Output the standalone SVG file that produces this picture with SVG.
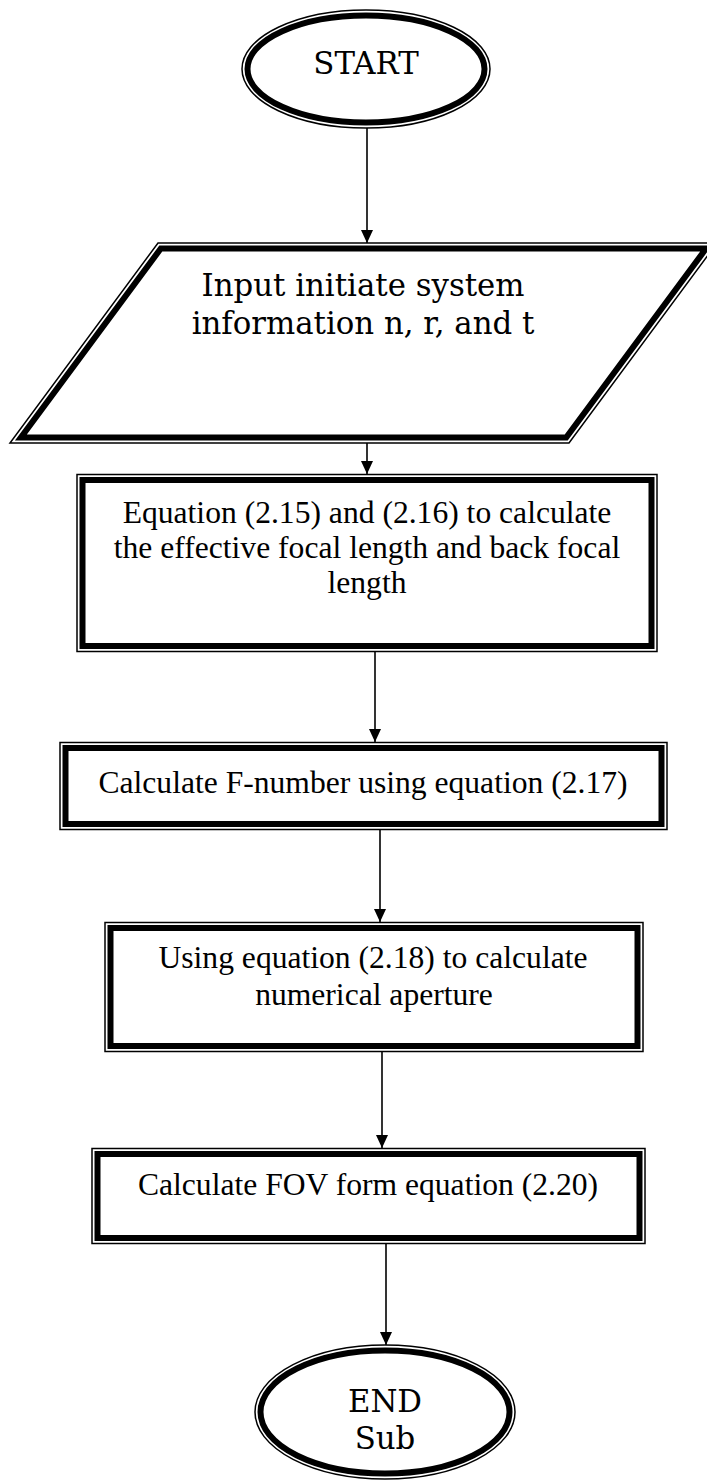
<svg xmlns="http://www.w3.org/2000/svg" width="707" height="1483" viewBox="0 0 707 1483">
<style>
.thin{fill:none;stroke:#000;stroke-width:1.5}
.thick{fill:none;stroke:#000;stroke-width:6}
.bg{fill:#fff;stroke:none}
.tnr{font-family:"Liberation Serif","Times New Roman",serif;font-size:31.6px;fill:#000;text-anchor:middle}
.bk{font-family:"DejaVu Serif",serif;font-size:30.8px;fill:#000;text-anchor:middle}
.conn{stroke:#000;stroke-width:1.6;fill:none;marker-end:url(#ah)}
</style>
<defs>
<marker id="ah" markerWidth="14" markerHeight="14" refX="13" refY="6" orient="auto" markerUnits="userSpaceOnUse">
<path d="M0,0 L13,6 L0,12 Z" fill="#000"/>
</marker>
</defs>
<rect width="707" height="1483" fill="#fff"/>
<g id="connectors">
<line class="conn" x1="367" y1="128" x2="367" y2="243"/>
<line class="conn" x1="367" y1="443" x2="367" y2="474"/>
<line class="conn" x1="375" y1="652" x2="375" y2="742"/>
<line class="conn" x1="380" y1="830" x2="380" y2="922"/>
<line class="conn" x1="382" y1="1052" x2="382" y2="1148"/>
<line class="conn" x1="386" y1="1244" x2="386" y2="1345"/>
</g>
<g id="start">
<ellipse class="bg" cx="366" cy="69" rx="124" ry="59"/>
<ellipse class="thin" cx="366" cy="69" rx="124" ry="59"/>
<ellipse class="thick" cx="366" cy="69" rx="118.5" ry="53.5"/>
<text class="bk" x="366" y="74" font-size="30">START</text>
</g>
<g id="input">
<polygon class="bg" points="158,243 717,243 569,443 10,443"/>
<polygon class="thin" points="158,243 717,243 569,443 10,443"/>
<polygon class="thick" points="160.8,248.5 706.1,248.5 566.2,437.5 20.9,437.5"/>
<text class="bk" x="363" y="296">Input initiate system</text>
<text class="bk" x="363" y="334">information n, r, and t</text>
</g>
<g id="eq1">
<rect class="thin" x="77" y="474.5" width="580" height="177"/>
<rect class="thick" x="82.5" y="480" width="569" height="166"/>
<text class="tnr" x="367" y="523">Equation (2.15) and (2.16) to calculate</text>
<text class="tnr" x="367" y="558">the effective focal length and back focal</text>
<text class="tnr" x="367" y="593">length</text>
</g>
<g id="fnum">
<rect class="thin" x="60" y="742.5" width="607" height="87"/>
<rect class="thick" x="65.5" y="748" width="596" height="76"/>
<text class="tnr" x="363" y="793">Calculate F-number using equation (2.17)</text>
</g>
<g id="na">
<rect class="thin" x="105" y="922.5" width="538" height="129"/>
<rect class="thick" x="110.5" y="928" width="527" height="118"/>
<text class="tnr" x="373" y="968">Using equation (2.18) to calculate</text>
<text class="tnr" x="374" y="1005">numerical aperture</text>
</g>
<g id="fov">
<rect class="thin" x="92" y="1148.5" width="553" height="95"/>
<rect class="thick" x="97.5" y="1154" width="542" height="84"/>
<text class="tnr" x="368" y="1195">Calculate FOV form equation (2.20)</text>
</g>
<g id="end">
<ellipse class="bg" cx="385" cy="1412" rx="130" ry="67"/>
<ellipse class="thin" cx="385" cy="1412" rx="130" ry="67"/>
<ellipse class="thick" cx="385" cy="1412" rx="124.5" ry="61.5"/>
<text class="bk" x="385" y="1412" font-size="28">END</text>
<text class="bk" x="385" y="1449" font-size="28">Sub</text>
</g>
</svg>
